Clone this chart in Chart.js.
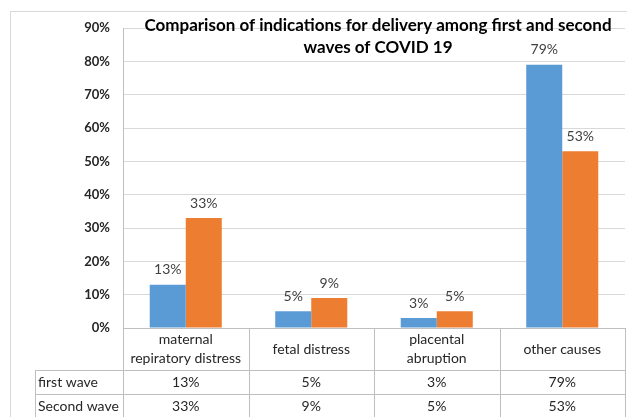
<!DOCTYPE html>
<html>
<head>
<meta charset="utf-8">
<script src="https://cdn.jsdelivr.net/npm/chart.js@4"></script>
<style>
  html, body { margin: 0; padding: 0; background: #fff; }
</style>
</head>
<body>
<canvas id="chart" width="627" height="417"></canvas>
<script>
// Data
const categories = [["maternal", "repiratory distress"], ["fetal distress"], ["placental", "abruption"], ["other causes"]];
const seriesNames = ["first wave", "Second wave"];
const firstWave = [13, 5, 3, 79];
const secondWave = [33, 9, 5, 53];
const yTicks = [0, 10, 20, 30, 40, 50, 60, 70, 80, 90];
const titleLines = ["Comparison of indications for delivery among first and second", "waves of COVID 19"];

const FONT = "Lato, 'Open Sans', sans-serif";
const LINE = "#bfbfbf";

// title, data labels and data table drawn on the canvas
const extras = {
  id: "extras",
  afterDraw(chart) {
    const ctx = chart.ctx;
    const area = chart.chartArea;
    const xs = chart.scales.x;
    const colW = (area.right - area.left) / categories.length;
    ctx.save();

    // outer chart border
    ctx.strokeStyle = "#d9d9d9";
    ctx.lineWidth = 1;
    ctx.strokeRect(10.5, 11.5, 640, 420);

    // value labels
    ctx.font = "14px " + FONT;
    ctx.fillStyle = "#404040";
    ctx.textAlign = "center";
    ctx.textBaseline = "middle";
    chart.data.datasets.forEach((ds, di) => {
      chart.getDatasetMeta(di).data.forEach((bar, i) => {
        ctx.fillText(ds.data[i] + "%", bar.x, bar.y - 15);
      });
    });

    // title
    ctx.font = "bold 17px " + FONT;
    ctx.fillStyle = "#000";
    ctx.fillText(titleLines[0], 378, 26);
    ctx.fillText(titleLines[1], 378, 48);

    // data table
    const top = area.bottom;
    const r1 = top + 42, r2 = r1 + 24, r3 = r2 + 24;
    const tableLeft = 35;
    ctx.strokeStyle = LINE;
    ctx.beginPath();
    ctx.moveTo(area.left, top + 0.5); ctx.lineTo(area.right, top + 0.5);
    [r1, r2, r3].forEach(y => { ctx.moveTo(tableLeft, y + 0.5); ctx.lineTo(area.right, y + 0.5); });
    ctx.moveTo(tableLeft + 0.5, r1); ctx.lineTo(tableLeft + 0.5, 420);
    for (let i = 0; i <= categories.length; i++) {
      const x = Math.round(area.left + i * colW) + 0.5;
      ctx.moveTo(x, top); ctx.lineTo(x, 420);
    }
    ctx.stroke();

    ctx.fillStyle = "#262626";
    ctx.font = "14px " + FONT;
    categories.forEach((lines, i) => {
      const cx = xs.getPixelForValue(i);
      if (lines.length === 2) {
        ctx.fillText(lines[0], cx, top + 11);
        ctx.fillText(lines[1], cx, top + 30);
      } else {
        ctx.fillText(lines[0], cx, top + 21);
      }
      ctx.fillText(firstWave[i] + "%", cx, r1 + 12);
      ctx.fillText(secondWave[i] + "%", cx, r2 + 12);
    });
    ctx.textAlign = "left";
    ctx.fillText(seriesNames[0], tableLeft + 3, r1 + 12);
    ctx.fillText(seriesNames[1], tableLeft + 3, r2 + 12);
    ctx.restore();
  }
};

new Chart(document.getElementById("chart"), {
  type: "bar",
  data: {
    labels: categories.map(c => c.join(" ")),
    datasets: [
      { label: seriesNames[0], data: firstWave, backgroundColor: "#5b9bd5" },
      { label: seriesNames[1], data: secondWave, backgroundColor: "#ed7d31" }
    ]
  },
  options: {
    responsive: false,
    animation: false,
    layout: { padding: { top: 28, right: 2, bottom: 89, left: 0 } },
    datasets: { bar: { categoryPercentage: 0.574, barPercentage: 1 } },
    plugins: { legend: { display: false }, tooltip: { enabled: false } },
    scales: {
      x: { display: false },
      y: {
        min: 0,
        max: 90,
        afterFit: s => { s.width = 123; },
        afterBuildTicks: s => { s.ticks = yTicks.map(v => ({ value: v })); },
        ticks: {
          padding: 13,
          color: "#262626",
          font: { family: FONT, size: 13, weight: "bold" },
          callback: v => v + "%"
        },
        grid: { color: "#d9d9d9", drawTicks: false },
        border: { color: LINE }
      }
    }
  },
  plugins: [extras]
});
</script>
</body>
</html>
